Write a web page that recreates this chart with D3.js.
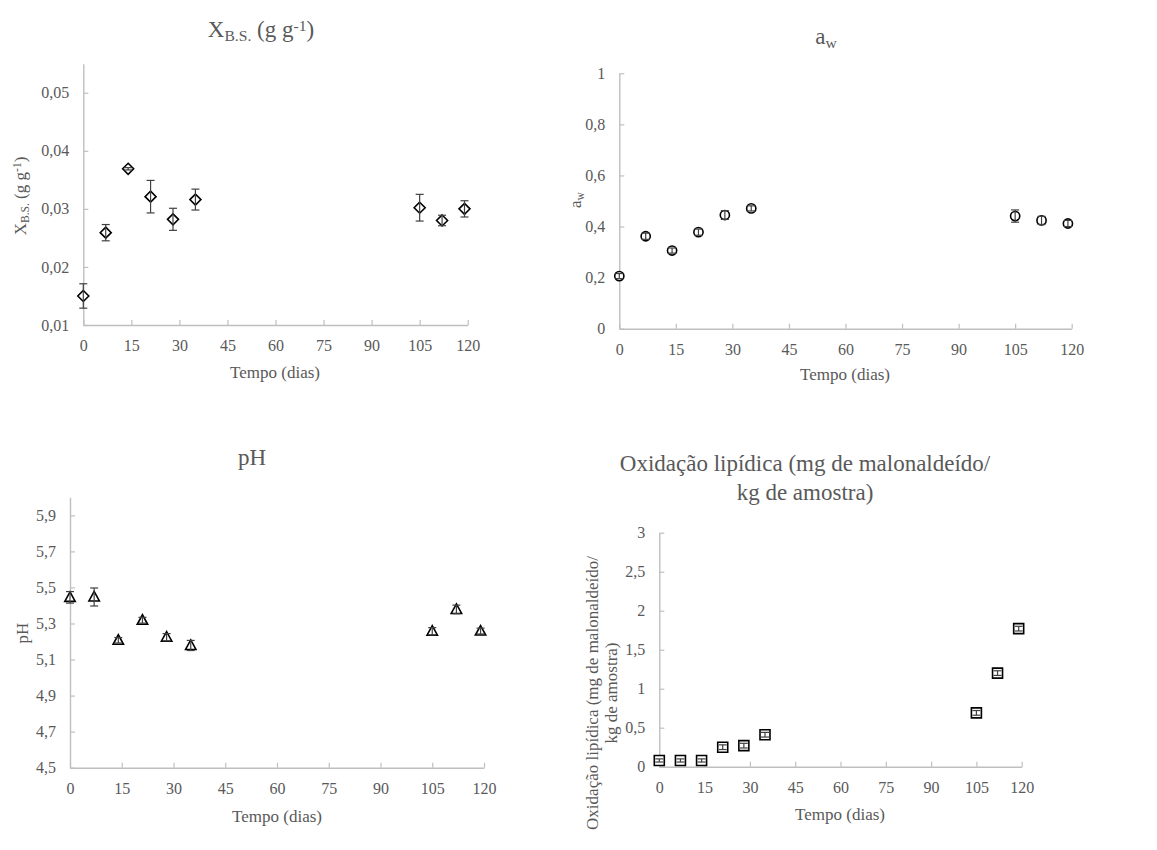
<!DOCTYPE html>
<html><head><meta charset="utf-8">
<script src="https://cdn.jsdelivr.net/npm/d3@7"></script>
<style>body{margin:0;background:#fff}svg{display:block}svg text{font-family:"Liberation Serif","Times New Roman",serif !important;fill:#595959}</style>
</head><body><svg id="c" width="1157" height="850" font-family="Liberation Serif, serif"></svg>
<script>
// ---- data ----
const days = [0, 7, 14, 21, 28, 35, 105, 112, 119];
const xTicks = [0, 15, 30, 45, 60, 75, 90, 105, 120];

const xbsValues = [0.0150, 0.0259, 0.0369, 0.0321, 0.0282, 0.0316, 0.0302, 0.0280, 0.0300];
const xbsErrors = [0.0021, 0.0014, 0.0002, 0.0028, 0.0019, 0.0018, 0.0023, 0.0009, 0.0014];
const xbsTicks = [0.01, 0.02, 0.03, 0.04, 0.05];

const awValues = [0.206, 0.362, 0.306, 0.378, 0.445, 0.471, 0.441, 0.424, 0.412];
const awErrors = [0.010, 0.012, 0.010, 0.012, 0.017, 0.010, 0.024, 0.016, 0.012];
const awTicks = [0, 0.2, 0.4, 0.6, 0.8, 1];

const phValues = [5.445, 5.447, 5.207, 5.318, 5.224, 5.178, 5.257, 5.378, 5.258];
const phErrors = [0.032, 0.050, 0.015, 0.016, 0.020, 0.028, 0.020, 0.024, 0.016];
const phTicks = [4.5, 4.7, 4.9, 5.1, 5.3, 5.5, 5.7, 5.9];

const oxValues = [0.08, 0.08, 0.08, 0.25, 0.27, 0.41, 0.69, 1.20, 1.77];
const oxErrors = [0.02, 0.02, 0.02, 0.03, 0.03, 0.03, 0.03, 0.03, 0.03];
const oxTicks = [0, 0.5, 1, 1.5, 2, 2.5, 3];

// ---- drawing ----
const FONT = '"Liberation Serif", "Times New Roman", serif';
const svg = d3.select("#c");
const loc = d3.formatLocale({decimal: ",", thousands: ".", grouping: [3], currency: ["", ""]});
const fmt = loc.format("~g");
const AX = "#bfbfbf";

function markerPath(kind) {
  const p = d3.path();
  if (kind === "diamond") { const r = 5.5; p.moveTo(0,-r); p.lineTo(r,0); p.lineTo(0,r); p.lineTo(-r,0); p.closePath(); }
  else if (kind === "circle") { p.arc(0,0,4.6,0,2*Math.PI); p.closePath(); }
  else if (kind === "triangle") { p.moveTo(0,-5.5); p.lineTo(5.2,4); p.lineTo(-5.2,4); p.closePath(); }
  else { const s = 5; p.rect(-s,-s,2*s,2*s); }
  return p.toString();
}

function panel(cfg) {
  const x = d3.scaleLinear().domain([0, 120]).range(cfg.xr);
  const y = d3.scaleLinear().domain(cfg.yd).range(cfg.yr);
  const g = svg.append("g");

  const xa = g.append("g").attr("transform", `translate(0,${cfg.yr[0]})`)
    .call(d3.axisBottom(x).tickValues(xTicks).tickSizeInner(-5).tickSizeOuter(0).tickPadding(15).tickFormat(d3.format("d")));
  const ya = g.append("g").attr("transform", `translate(${cfg.xr[0]},0)`)
    .call(d3.axisLeft(y).tickValues(cfg.yt).tickSizeInner(-5).tickSizeOuter(0).tickPadding(14).tickFormat(fmt));
  [xa, ya].forEach(a => {
    a.attr("font-family", FONT).attr("font-size", 16);
    a.select(".domain").attr("stroke", AX).attr("stroke-width", 1.4);
    a.selectAll(".tick line").attr("stroke", AX).attr("stroke-width", 1.2);
    a.selectAll(".tick text").attr("fill", "#595959").style("font-family", FONT).style("font-size", "16px");
  });

  const pts = days.map((d, i) => ({d, v: cfg.values[i], e: cfg.errors[i]}));
  g.append("g").selectAll("path").data(pts).join("path")
    .attr("d", markerPath(cfg.marker))
    .attr("transform", p => `translate(${x(p.d)},${y(p.v)})`)
    .attr("fill", "#fff").attr("stroke", "#000").attr("stroke-width", 1.6);

  const eb = g.append("g").attr("stroke", "#404040").attr("stroke-width", 1.2);
  pts.forEach(p => {
    const cx = x(p.d), y1 = y(p.v - p.e), y2 = y(p.v + p.e);
    eb.append("line").attr("x1", cx).attr("x2", cx).attr("y1", y1).attr("y2", y2);
    eb.append("line").attr("x1", cx - 4).attr("x2", cx + 4).attr("y1", y1).attr("y2", y1);
    eb.append("line").attr("x1", cx - 4).attr("x2", cx + 4).attr("y1", y2).attr("y2", y2);
  });

  g.append("text").attr("x", cfg.xt[0]).attr("y", cfg.xt[1]).attr("text-anchor", "middle")
    .style("font-family", FONT).style("font-size", "17px").text("Tempo (dias)");
  return g;
}

function richText(sel, parts, size) {
  sel.style("font-family", FONT);
  parts.forEach(pt => {
    const t = sel.append("tspan").text(pt.t);
    if (pt.sub) t.attr("baseline-shift", "-25%").style("font-size", (size * 0.68) + "px");
    if (pt.sup) t.attr("baseline-shift", "38%").style("font-size", (size * 0.68) + "px");
  });
}
function plain(sel, txt) { return sel.style("font-family", FONT).text(txt); }

// Panel 1
const g1 = panel({xr: [83.3, 467.7], yr: [325, 63.7], yd: [0.01, 0.055], yt: xbsTicks,
  values: xbsValues, errors: xbsErrors, marker: "diamond", xt: [275, 378]});
const xbsParts = [{t: "X"}, {t: "B.S.", sub: true}, {t: " (g g"}, {t: "-1", sup: true}, {t: ")"}];
richText(g1.append("text").attr("x", 261).attr("y", 37).attr("text-anchor", "middle").style("font-size", "23px"), xbsParts, 23);
richText(g1.append("text").attr("transform", "translate(26,196) rotate(-90)").attr("text-anchor", "middle").style("font-size", "17px"), xbsParts, 17);

// Panel 2
const g2 = panel({xr: [619.3, 1071.7], yr: [328.7, 73.3], yd: [0, 1], yt: awTicks,
  values: awValues, errors: awErrors, marker: "circle", xt: [845, 380]});
richText(g2.append("text").attr("x", 826).attr("y", 44).attr("text-anchor", "middle").style("font-size", "23px"), [{t: "a"}, {t: "w", sub: true}], 23);
richText(g2.append("text").attr("transform", "translate(581,200) rotate(-90)").attr("text-anchor", "middle").style("font-size", "17px"), [{t: "a"}, {t: "w", sub: true}], 17);

// Panel 3
const g3 = panel({xr: [70, 484], yr: [767.7, 497.3], yd: [4.5, 6.0], yt: phTicks,
  values: phValues, errors: phErrors, marker: "triangle", xt: [277, 822]});
plain(g3.append("text").attr("x", 252).attr("y", 465).attr("text-anchor", "middle").style("font-size", "23px"), "pH");
plain(g3.append("text").attr("transform", "translate(28,633) rotate(-90)").attr("text-anchor", "middle").style("font-size", "17px"), "pH");

// Panel 4
const g4 = panel({xr: [659.3, 1021.7], yr: [766.7, 532.7], yd: [0, 3], yt: oxTicks,
  values: oxValues, errors: oxErrors, marker: "square", xt: [840, 820]});
plain(g4.append("text").attr("x", 805).attr("y", 471).attr("text-anchor", "middle").style("font-size", "23px"), "Oxidação lipídica (mg de malonaldeído/");
plain(g4.append("text").attr("x", 805).attr("y", 500).attr("text-anchor", "middle").style("font-size", "23px"), "kg de amostra)");
plain(g4.append("text").attr("transform", "translate(598,693) rotate(-90)").attr("text-anchor", "middle").style("font-size", "17px"), "Oxidação lipídica  (mg de malonaldeído/");
plain(g4.append("text").attr("transform", "translate(617,693) rotate(-90)").attr("text-anchor", "middle").style("font-size", "17px"), "kg de amostra)");
</script></body></html>
